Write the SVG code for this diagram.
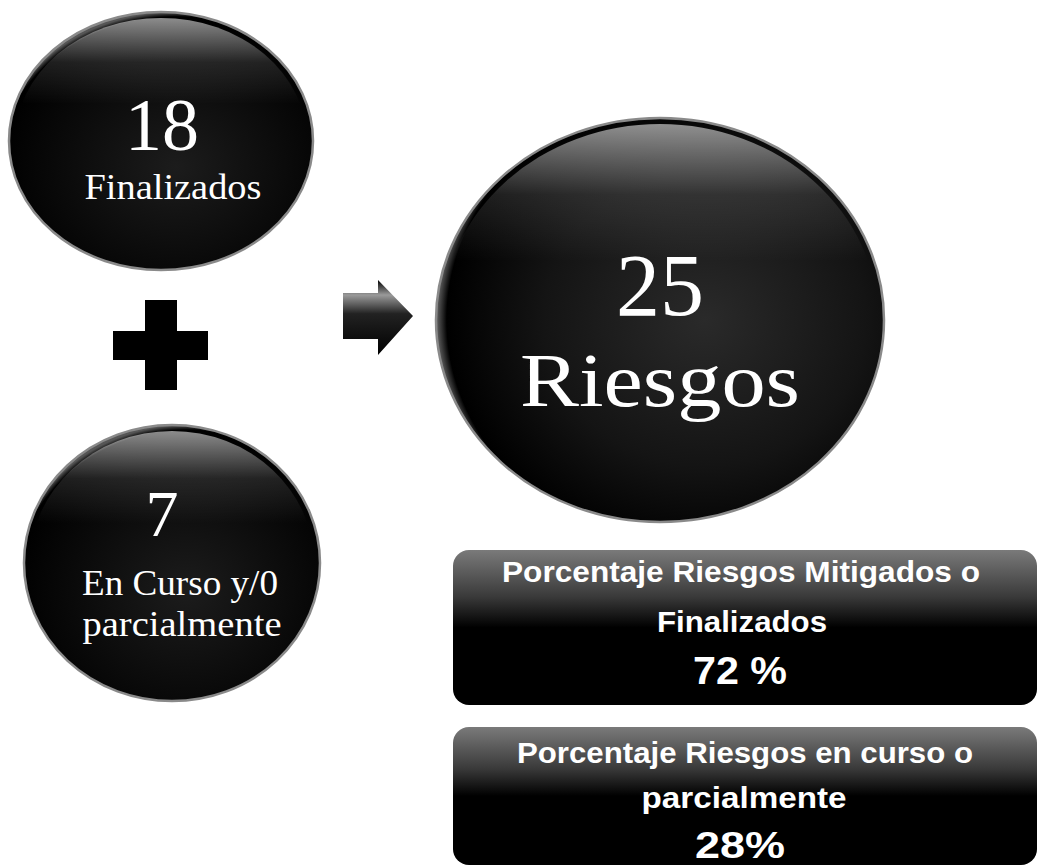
<svg xmlns="http://www.w3.org/2000/svg" width="1039" height="867" viewBox="0 0 1039 867">
<defs>
  <radialGradient id="ball" cx="0.55" cy="0.6" r="0.6">
    <stop offset="0" stop-color="#1c1c1c"/>
    <stop offset="0.8" stop-color="#050505"/>
    <stop offset="0.97" stop-color="#000"/>
    <stop offset="1" stop-color="#555"/>
  </radialGradient>
  <radialGradient id="bigball" cx="0.6" cy="0.5" r="0.6">
    <stop offset="0" stop-color="#2a2a2a"/>
    <stop offset="0.6" stop-color="#141414"/>
    <stop offset="0.96" stop-color="#000"/>
    <stop offset="1" stop-color="#666"/>
  </radialGradient>
  <linearGradient id="gloss" x1="0" y1="0" x2="0" y2="1">
    <stop offset="0" stop-color="#fff" stop-opacity="0.55"/>
    <stop offset="0.18" stop-color="#fff" stop-opacity="0.12"/>
    <stop offset="0.35" stop-color="#fff" stop-opacity="0"/>
  </linearGradient>
  <linearGradient id="boxfill" x1="0" y1="0" x2="0" y2="1">
    <stop offset="0" stop-color="#7a7a7a"/>
    <stop offset="0.3" stop-color="#3a3a3a"/>
    <stop offset="0.5" stop-color="#000"/>
    <stop offset="1" stop-color="#000"/>
  </linearGradient>
  <linearGradient id="arrowfill" x1="0" y1="0" x2="0" y2="1">
    <stop offset="0" stop-color="#000"/>
    <stop offset="0.2" stop-color="#9a9a9a"/>
    <stop offset="0.45" stop-color="#222"/>
    <stop offset="1" stop-color="#000"/>
  </linearGradient>
  <style>
    .ring { stroke: #8a8a8a; stroke-width: 2.5; }
    .serif { font-family: "Liberation Serif", "DejaVu Serif", serif; fill: #fff; text-anchor: middle; }
    .sans { font-family: "Liberation Sans", Arial, sans-serif; font-weight: bold; fill: #fff; text-anchor: middle; }
  </style>
</defs>
<rect width="1039" height="867" fill="#fff"/>

<g id="node-finalizados">
  <ellipse cx="161" cy="141" rx="152" ry="129" fill="url(#ball)" class="ring"/>
  <ellipse cx="161" cy="141" rx="146" ry="123" fill="url(#gloss)"/>
  <text class="serif" x="162" y="150" font-size="74">18</text>
  <text class="serif" x="173" y="199" font-size="36" textLength="177" lengthAdjust="spacingAndGlyphs">Finalizados</text>
</g>

<g id="plus">
  <rect x="145" y="300" width="32" height="90" fill="#000"/>
  <rect x="113" y="331" width="95" height="29" fill="#000"/>
</g>

<g id="node-en-curso">
  <ellipse cx="172" cy="563" rx="148" ry="138" fill="url(#ball)" class="ring"/>
  <ellipse cx="172" cy="563" rx="142" ry="132" fill="url(#gloss)"/>
  <text class="serif" x="162" y="536" font-size="66">7</text>
  <text class="serif" x="180" y="595" font-size="35" textLength="196" lengthAdjust="spacingAndGlyphs">En Curso y/0</text>
  <text class="serif" x="182" y="636" font-size="35" textLength="199" lengthAdjust="spacingAndGlyphs">parcialmente</text>
</g>

<g id="connectors">
  <path d="M343,293 H378 V280 L413,316 L378,355 V339 H343 Z" fill="url(#arrowfill)"/>
</g>

<g id="node-riesgos">
  <ellipse cx="660" cy="320" rx="224" ry="202" fill="url(#bigball)" class="ring"/>
  <ellipse cx="660" cy="320" rx="218" ry="196" fill="url(#gloss)"/>
  <text class="serif" x="660" y="315" font-size="88">25</text>
  <text class="serif" x="660" y="406" font-size="76" textLength="280" lengthAdjust="spacingAndGlyphs">Riesgos</text>
</g>

<g id="box-mitigados">
  <rect x="453" y="550" width="584" height="155" rx="16" fill="url(#boxfill)"/>
  <text class="sans" x="741" y="582" font-size="30" textLength="478" lengthAdjust="spacingAndGlyphs">Porcentaje Riesgos Mitigados o</text>
  <text class="sans" x="742" y="632" font-size="30" textLength="170" lengthAdjust="spacingAndGlyphs">Finalizados</text>
  <text class="sans" x="740" y="684" font-size="38" textLength="94" lengthAdjust="spacingAndGlyphs">72 %</text>
</g>

<g id="box-en-curso">
  <rect x="453" y="727" width="584" height="138" rx="16" fill="url(#boxfill)"/>
  <text class="sans" x="745" y="763" font-size="30" textLength="456" lengthAdjust="spacingAndGlyphs">Porcentaje Riesgos en curso o</text>
  <text class="sans" x="744" y="808" font-size="30" textLength="205" lengthAdjust="spacingAndGlyphs">parcialmente</text>
  <text class="sans" x="740" y="858" font-size="36" textLength="90" lengthAdjust="spacingAndGlyphs">28%</text>
</g>
</svg>
